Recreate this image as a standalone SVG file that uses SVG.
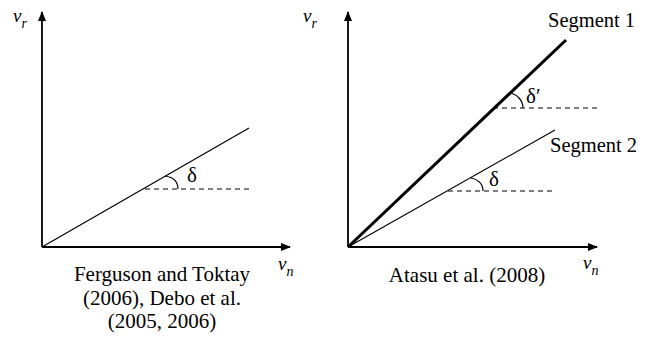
<svg xmlns="http://www.w3.org/2000/svg" width="647" height="337" viewBox="0 0 647 337">
<defs>
<style>
text{font-family:"Liberation Serif","Times New Roman",serif;fill:#000;font-size:21px}
.seg{font-size:20.5px}
.it{font-style:italic;font-size:19px}
.sub{font-size:14px}
.axis{stroke:#000;stroke-width:1.8;fill:none}
.ln{stroke:#000;stroke-width:1.2;fill:none}
.thick{stroke:#000;stroke-width:3;fill:none}
.dash{stroke:#000;stroke-width:1.2;stroke-dasharray:5,4;fill:none}
.arc{stroke:#000;stroke-width:1.2;fill:none}
</style>
<marker id="ah" viewBox="0 0 10 8" refX="9" refY="4" markerWidth="10" markerHeight="8" markerUnits="userSpaceOnUse" orient="auto">
<path d="M0,0 L10,4 L0,8 Z" fill="#000"/>
</marker>
</defs>
<g id="left-panel">
<g id="left-axes">
<line class="axis" x1="42" y1="247" x2="42" y2="12" marker-end="url(#ah)"/>
<line class="axis" x1="42" y1="247" x2="290" y2="247" marker-end="url(#ah)"/>
</g>
<g id="left-line">
<line class="ln" x1="42" y1="247" x2="249" y2="128"/>
<line class="dash" x1="145" y1="189" x2="250" y2="189"/>
<path class="arc" d="M165,176 C172,177 178,181 178,189"/>
</g>
<text x="187" y="182" font-size="19">δ</text>
<text class="it" x="13" y="22">v<tspan class="sub" dy="6">r</tspan></text>
<text class="it" x="278" y="270">v<tspan class="sub" dy="6">n</tspan></text>
<text x="162" y="281" text-anchor="middle">Ferguson and Toktay</text>
<text x="162" y="305" text-anchor="middle">(2006), Debo et al.</text>
<text x="162" y="328" text-anchor="middle">(2005, 2006)</text>
</g>
<g id="right-panel">
<g id="right-axes">
<line class="axis" x1="348" y1="247" x2="348" y2="12" marker-end="url(#ah)"/>
<line class="axis" x1="348" y1="247" x2="597" y2="247" marker-end="url(#ah)"/>
</g>
<g id="segment1">
<line class="thick" x1="348" y1="247" x2="566" y2="40"/>
<line class="dash" x1="493" y1="108" x2="597" y2="108"/>
<path class="arc" d="M511,93 C517,95 523,100 523,108"/>
<text x="526" y="103" font-size="19">δ′</text>
<text class="seg" x="548" y="27">Segment 1</text>
</g>
<g id="segment2">
<line class="ln" x1="348" y1="247" x2="555" y2="130"/>
<line class="dash" x1="448" y1="191" x2="556" y2="191"/>
<path class="arc" d="M471,178 C477,179 483,183 483,191"/>
<text x="489" y="186" font-size="19">δ</text>
<text class="seg" x="550" y="152">Segment 2</text>
</g>
<text class="it" x="303" y="22">v<tspan class="sub" dy="6">r</tspan></text>
<text class="it" x="583" y="269">v<tspan class="sub" dy="6">n</tspan></text>
<text x="467" y="282" text-anchor="middle">Atasu et al. (2008)</text>
</g>
</svg>
